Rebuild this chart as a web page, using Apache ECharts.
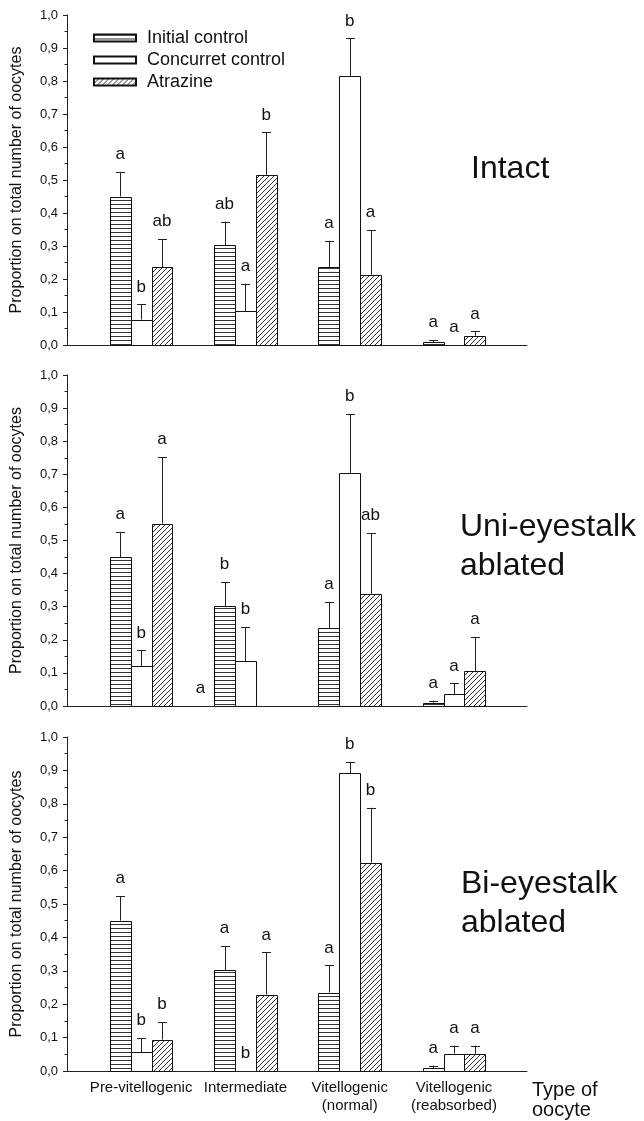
<!DOCTYPE html>
<html>
<head>
<meta charset="utf-8">
<script src="https://cdn.jsdelivr.net/npm/echarts@6/dist/echarts.min.js"></script>
<style>
html,body{margin:0;padding:0;background:#fff;}
#chart{width:644px;height:1121px;}
</style>
</head>
<body>
<div id="chart"></div>
<script>
// ---- data ----
const categories = ['Pre-vitellogenic', 'Intermediate', 'Vitellogenic\n(normal)', 'Vitellogenic\n(reabsorbed)'];
const groups = ['Initial control', 'Concurret control', 'Atrazine'];
const panelTitles = ['Intact', 'Uni-eyestalk\nablated', 'Bi-eyestalk\nablated'];
const yTicks = [0, 0.1, 0.2, 0.3, 0.4, 0.5, 0.6, 0.7, 0.8, 0.9, 1.0];

// Intact
const intactInitial = [0.450, 0.302, 0.235, 0.009];
const intactInitialErr = [0.074, 0.072, 0.081, 0.006];
const intactInitialLetters = ['a', 'ab', 'a', 'a'];
const intactConcurrent = [0.077, 0.102, 0.814, 0];
const intactConcurrentErr = [0.046, 0.084, 0.115, 0];
const intactConcurrentLetters = ['b', 'a', 'b', 'a'];
const intactAtrazine = [0.236, 0.516, 0.213, 0.028];
const intactAtrazineErr = [0.085, 0.128, 0.135, 0.013];
const intactAtrazineLetters = ['ab', 'b', 'a', 'a'];

// Uni-eyestalk ablated
const uniInitial = [0.450, 0.302, 0.235, 0.010];
const uniInitialErr = [0.075, 0.072, 0.080, 0.006];
const uniInitialLetters = ['a', 'b', 'a', 'a'];
const uniConcurrent = [0.121, 0.136, 0.704, 0.036];
const uniConcurrentErr = [0.047, 0.102, 0.178, 0.032];
const uniConcurrentLetters = ['b', 'b', 'b', 'a'];
const uniAtrazine = [0.551, 0, 0.339, 0.105];
const uniAtrazineErr = [0.201, 0, 0.183, 0.104];
const uniAtrazineLetters = ['a', 'a', 'ab', 'a'];

// Bi-eyestalk ablated
const biInitial = [0.450, 0.302, 0.235, 0.009];
const biInitialErr = [0.074, 0.072, 0.081, 0.007];
const biInitialLetters = ['a', 'a', 'a', 'a'];
const biConcurrent = [0.056, 0, 0.891, 0.052];
const biConcurrentErr = [0.043, 0, 0.035, 0.024];
const biConcurrentLetters = ['b', 'b', 'b', 'a'];
const biAtrazine = [0.094, 0.229, 0.624, 0.052];
const biAtrazineErr = [0.052, 0.126, 0.164, 0.024];
const biAtrazineLetters = ['b', 'a', 'b', 'a'];

// ---- layout / style ----
const FONT = "'Liberation Sans', Arial, Helvetica, sans-serif";
const INK = '#111';
const BW = 0.2; // bar width in category units
const grids = [
  {left: 67, top: 15, width: 460, height: 330, outerBoundsMode: 'none', containLabel: false},
  {left: 67, top: 375, width: 460, height: 331, outerBoundsMode: 'none', containLabel: false},
  {left: 67, top: 737, width: 460, height: 334, outerBoundsMode: 'none', containLabel: false}
];
const titleTops = [150, 508, 865];
const titleLefts = [471, 460, 461];
// letter horizontal shift (category units) for one misplaced label
const letterShift = {'1-2-1': -0.63};

function makePattern(kind) {
  const c = document.createElement('canvas');
  const ctx = c.getContext('2d');
  if (kind === 'h') {
    c.width = 4; c.height = 4;
    ctx.fillStyle = '#fff'; ctx.fillRect(0, 0, 4, 4);
    ctx.fillStyle = '#333'; ctx.fillRect(0, 0, 4, 1);
  } else if (kind === 'd') {
    const s = 5;
    c.width = s; c.height = s;
    ctx.fillStyle = '#fff'; ctx.fillRect(0, 0, s, s);
    ctx.strokeStyle = '#333'; ctx.lineWidth = 1;
    ctx.beginPath();
    ctx.moveTo(-1, s + 1); ctx.lineTo(s + 1, -1);
    ctx.moveTo(-1, 1); ctx.lineTo(1, -1);
    ctx.moveTo(s - 1, s + 1); ctx.lineTo(s + 1, s - 1);
    ctx.stroke();
  } else {
    c.width = 2; c.height = 2;
    ctx.fillStyle = '#fff'; ctx.fillRect(0, 0, 2, 2);
  }
  return {image: c, repeat: 'repeat'};
}
const fills = [makePattern('h'), makePattern('w'), makePattern('d')];

const panels = [
  [[intactInitial, intactInitialErr, intactInitialLetters],
   [intactConcurrent, intactConcurrentErr, intactConcurrentLetters],
   [intactAtrazine, intactAtrazineErr, intactAtrazineLetters]],
  [[uniInitial, uniInitialErr, uniInitialLetters],
   [uniConcurrent, uniConcurrentErr, uniConcurrentLetters],
   [uniAtrazine, uniAtrazineErr, uniAtrazineLetters]],
  [[biInitial, biInitialErr, biInitialLetters],
   [biConcurrent, biConcurrentErr, biConcurrentLetters],
   [biAtrazine, biAtrazineErr, biAtrazineLetters]]
];

function makeRender(p, g, letters) {
  return function (params, api) {
    const i = params.dataIndex;
    const x = api.value(0), v = api.value(1), e = api.value(2);
    const cx = x + (g - 1) * BW;
    const base = api.coord([cx - BW / 2, 0]);
    const right = api.coord([cx + BW / 2, 0]);
    const top = api.coord([cx, v]);
    const cap = api.coord([cx, v + e]);
    const mid = api.coord([cx, 0]);
    const children = [];
    if (v > 0) {
      children.push({
        type: 'rect',
        shape: {x: Math.round(base[0]) + 0.5, y: Math.round(top[1]) + 0.5,
                width: Math.round(right[0]) - Math.round(base[0]),
                height: Math.round(base[1]) - Math.round(top[1])},
        style: {fill: fills[g], stroke: INK, lineWidth: 1}
      });
    }
    if (e > 0) {
      const lx = Math.round(mid[0]) + 0.5;
      children.push({type: 'line', shape: {x1: lx, y1: top[1], x2: lx, y2: cap[1]},
        style: {stroke: '#222', lineWidth: 1}});
      children.push({type: 'line', shape: {x1: lx - 4.5, y1: Math.round(cap[1]) + 0.5, x2: lx + 4.5, y2: Math.round(cap[1]) + 0.5},
        style: {stroke: '#222', lineWidth: 1}});
    }
    const shift = letterShift[p + '-' + g + '-' + i] || 0;
    const lp = api.coord([cx + shift, v + e]);
    children.push({
      type: 'text', x: lp[0], y: lp[1] - 9,
      style: {text: letters[i], fill: INK, fontSize: 17, fontFamily: FONT,
              align: 'center', verticalAlign: 'bottom'}
    });
    return {type: 'group', children: children};
  };
}

const xAxes = grids.map((gr, k) => ({
  type: 'value', gridIndex: k, min: 0.289, max: 4.70,
  axisLine: {show: true, onZero: false, lineStyle: {color: '#222', width: 1}},
  axisTick: {show: false},
  splitLine: {show: false},
  axisLabel: k === 2 ? {
    show: true, customValues: [1, 2, 3, 4],
    formatter: v => categories[Math.round(v) - 1],
    fontSize: 15, lineHeight: 18, color: INK, fontFamily: FONT, margin: 8
  } : {show: false}
}));

const yAxes = grids.map((gr, k) => ({
  type: 'value', gridIndex: k, min: 0, max: 1, interval: 0.1,
  name: 'Proportion on total number of oocytes',
  nameLocation: 'middle', nameGap: 42,
  nameTextStyle: {fontSize: 16, color: INK, fontFamily: FONT},
  axisLine: {show: true, lineStyle: {color: '#222', width: 1}},
  axisTick: {show: true, length: 4, lineStyle: {color: '#222'}},
  minorTick: {show: true, splitNumber: 2, length: 2.5, lineStyle: {color: '#222'}},
  splitLine: {show: false},
  axisLabel: {fontSize: 13, color: INK, fontFamily: FONT, margin: 9,
    formatter: v => (Math.round(v * 10) / 10).toFixed(1).replace('.', ',')}
}));

const series = [];
panels.forEach((panel, p) => {
  panel.forEach((grp, g) => {
    const [vals, errs, letters] = grp;
    series.push({
      type: 'custom', name: groups[g], xAxisIndex: p, yAxisIndex: p,
      itemStyle: {color: fills[g], borderColor: INK, borderWidth: 1},
      encode: {x: 0, y: 1},
      data: vals.map((v, i) => [i + 1, v, errs[i]]),
      renderItem: makeRender(p, g, letters),
      clip: false,
      silent: true
    });
  });
});

const titles = panelTitles.map((t, k) => ({
  text: t, left: titleLefts[k], top: titleTops[k], padding: 0,
  textStyle: {fontSize: 32, lineHeight: 39, fontWeight: 'normal', color: INK, fontFamily: FONT}
}));
titles.push({
  text: 'Type of\noocyte', left: 532, top: 1080, padding: 0,
  textStyle: {fontSize: 20, lineHeight: 20, fontWeight: 'normal', color: INK, fontFamily: FONT}
});

const chart = echarts.init(document.getElementById('chart'), null, {renderer: 'canvas'});
chart.setOption({
  animation: false,
  backgroundColor: '#fff',
  title: titles,
  legend: {
    data: groups, orient: 'vertical', left: 93, top: 29, padding: 0,
    icon: 'rect', itemWidth: 42, itemHeight: 7, itemGap: 4,
    textStyle: {fontSize: 18, lineHeight: 18, color: INK, fontFamily: FONT, padding: [0, 0, 0, 6]},
    selectedMode: false
  },
  grid: grids,
  xAxis: xAxes,
  yAxis: yAxes,
  series: series
});
</script>
</body>
</html>
